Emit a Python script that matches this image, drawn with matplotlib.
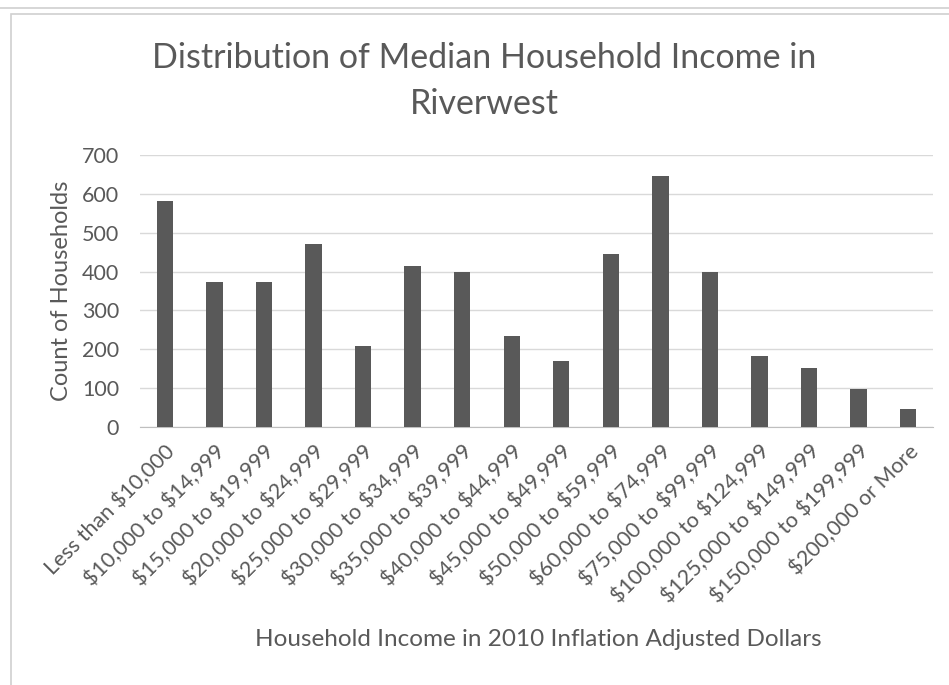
import numpy as np
import matplotlib.pyplot as plt
from matplotlib.patches import Rectangle
from matplotlib.lines import Line2D

plt.rcParams['font.family'] = ['Lato', 'DejaVu Sans']

kategoriler = ["Less than $10,000", "$10,000 to $14,999", "$15,000 to $19,999",
               "$20,000 to $24,999", "$25,000 to $29,999", "$30,000 to $34,999",
               "$35,000 to $39,999", "$40,000 to $44,999", "$45,000 to $49,999",
               "$50,000 to $59,999", "$60,000 to $74,999", "$75,000 to $99,999",
               "$100,000 to $124,999", "$125,000 to $149,999", "$150,000 to $199,999",
               "$200,000 or More"]
hane_sayisi = [582, 373, 373, 471, 209, 414, 399, 235, 170, 445, 646, 399, 184, 153, 98, 46]
y_ticks = [0, 100, 200, 300, 400, 500, 600, 700]

gri = '#595959'
W, H = 949, 685

fig = plt.figure(figsize=(W / 100, H / 100), dpi=100)
ax = fig.add_axes([140 / W, 1 - 427 / H, (933 - 140) / W, (427 - 155) / H])

x = np.arange(len(kategoriler))
ax.bar(x, hane_sayisi, width=0.33, color=gri, zorder=3)

ax.set_xlim(-0.5, len(kategoriler) - 0.5)
ax.set_ylim(0, 700)
ax.set_yticks(y_ticks)
ax.yaxis.grid(True, color='#d9d9d9', linewidth=1, zorder=0)
for s in ['top', 'right', 'left']:
    ax.spines[s].set_visible(False)
ax.spines['bottom'].set_color('#bfbfbf')
ax.tick_params(axis='y', length=0, pad=15, labelsize=15.5, labelcolor=gri)
ax.tick_params(axis='x', length=0, pad=10)
ax.set_xticks(x)
# $ işaretini mathtext'ten kaçır
ax.set_xticklabels([k.replace('$', r'\$') for k in kategoriler], rotation=45, ha='right',
                   rotation_mode='anchor', fontsize=15.5, color=gri)

ax.set_ylabel("Count of Households", fontsize=17, color=gri, labelpad=7)
fig.text(538 / W, 1 - 640 / H, "Household Income in 2010 Inflation Adjusted Dollars",
         ha='center', va='center', fontsize=17.5, color=gri)
fig.text(484 / W, 1 - 81 / H, "Distribution of Median Household Income in\nRiverwest",
         ha='center', va='center', fontsize=24.5, color=gri, linespacing=1.5)

# grafik çerçevesi
fig.add_artist(Rectangle((11 / W, -0.01), 1, 1 - 14 / H + 0.01, transform=fig.transFigure,
                         fill=False, edgecolor='#d0d0d0', linewidth=1.2))
fig.add_artist(Line2D([0, 1], [1 - 8 / H, 1 - 8 / H], transform=fig.transFigure,
                      color='#d0d0d0', linewidth=1.2))

fig.savefig("out.png", dpi=100)
